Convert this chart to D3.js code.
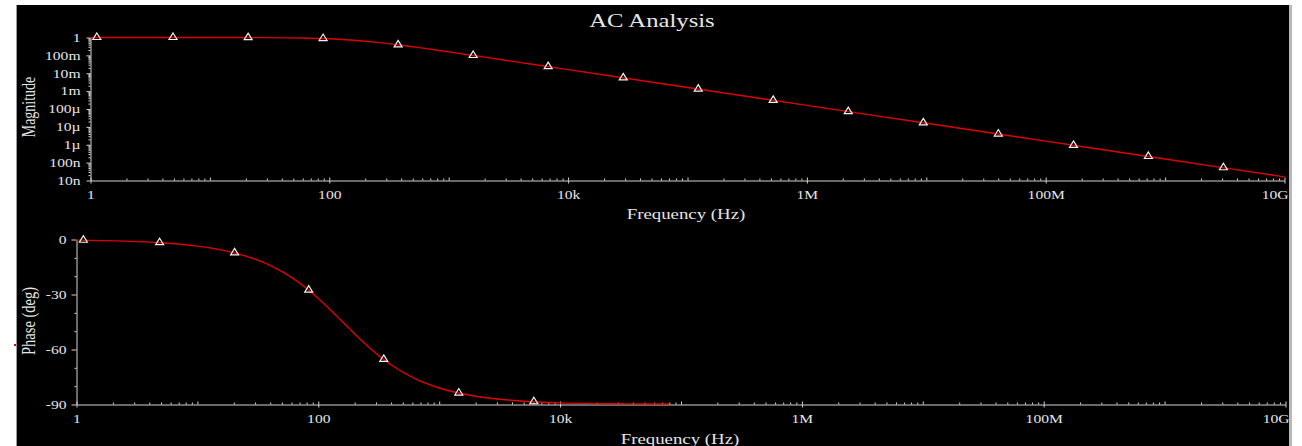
<!DOCTYPE html>
<html><head><meta charset="utf-8">
<script src="https://cdn.jsdelivr.net/npm/d3@7"></script>
<style>html,body{margin:0;padding:0;background:#fff;overflow:hidden}</style>
</head><body>
<svg id="c" width="1302" height="446"></svg>
<script>
// ---- data ----
const magFreq  = [1, 10, 30, 60, 100, 160, 250, 400, 630, 1000, 2000, 5000, 1e4, 1e5, 1e6, 1e7, 1e8, 1e9, 1e10];
const magValue = [1, 0.998, 0.983, 0.936, 0.847, 0.705, 0.537, 0.370, 0.245, 0.157, 0.0793, 0.0318, 0.0159, 1.59e-3, 1.59e-4, 1.59e-5, 1.59e-6, 1.59e-7, 1.59e-8];
const phaseFreq  = [1, 5, 10, 20, 40, 60, 80, 100, 130, 160, 200, 250, 320, 400, 600, 1000, 2000, 5000, 10000, 30000, 80000];
const phaseValue = [-0.36, -1.8, -3.6, -7.2, -14.1, -20.7, -26.7, -32.2, -39.3, -45.2, -51.5, -57.5, -63.6, -68.3, -75.2, -81.0, -85.5, -88.2, -89.1, -89.6, -89.75];
const magMarkerFreq  = [1.13, 4.91, 20.9, 88.7, 377, 1603, 6808, 28960, 1.23e5, 5.22e5, 2.22e6, 9.44e6, 4.01e7, 1.71e8, 7.24e8, 3.08e9];
const magMarkerValue = [1.0, 0.9995, 0.991, 0.873, 0.389, 0.0987, 0.0234, 5.49e-3, 1.29e-3, 3.05e-4, 7.16e-5, 1.68e-5, 3.97e-6, 9.3e-7, 2.2e-7, 5.16e-8];
const phaseMarkerFreq  = [1.14, 4.87, 20.3, 83.3, 348, 1452, 6070];
const phaseMarkerValue = [-0.41, -1.75, -7.28, -27.6, -65.4, -83.75, -88.5];
const freqTickValues = [1, 1e2, 1e4, 1e6, 1e8, 1e10];
const freqTickLabels = ["1", "100", "10k", "1M", "100M", "10G"];
const magTickValues = [1e-8, 1e-7, 1e-6, 1e-5, 1e-4, 1e-3, 1e-2, 1e-1, 1];
const magTickLabels = ["10n", "100n", "1µ", "10µ", "100µ", "1m", "10m", "100m", "1"];
const phaseTickValues = [0, -30, -60, -90];
const phaseTickLabels = ["0", "-30", "-60", "-90"];
const phaseMinorValues = [-10, -20, -40, -50, -70, -80];
const titleText = "AC Analysis";
const xTitle = "Frequency (Hz)";
const magTitle = "Magnitude";
const phaseTitle = "Phase (deg)";

// ---- style ----
const FG = "#e6e6e6", AX = "#d4d4d4", RED = "#e00000", SX = 1.3;
const FONT = "'Liberation Serif','Times New Roman',serif";

const svg = d3.select("#c");
svg.append("rect").attr("width", 1302).attr("height", 446).attr("fill", "#fff");
svg.append("rect").attr("x", 17).attr("y", 5).attr("width", 1272).attr("height", 441).attr("fill", "#000");
svg.append("rect").attr("x", 16).attr("y", 5).attr("width", 1).attr("height", 441).attr("fill", "#9a9a9a");
svg.append("rect").attr("x", 1289).attr("y", 5).attr("width", 3).attr("height", 441).attr("fill", "#b8b8b8");
svg.append("rect").attr("x", 14).attr("y", 344).attr("width", 2).attr("height", 2).attr("fill", "#e00000");

function stretchedText(g, x, y, txt, size, anchor, rotate) {
  return g.append("text")
    .attr("transform", `translate(${x},${y}) scale(${SX},1)` + (rotate ? ` rotate(${rotate})` : ""))
    .attr("text-anchor", anchor).attr("fill", FG)
    .attr("font-family", FONT).attr("font-size", size).text(txt);
}

stretchedText(svg, 652, 27, titleText, 19, "middle");

function logMinor(lo, hi) {
  const out = [];
  for (let e = lo; e < hi; e++) for (let m = 2; m <= 9; m++) out.push(m * Math.pow(10, e));
  return out;
}
function logDecades(lo, hi) {
  const out = [];
  for (let e = lo; e <= hi; e++) out.push(Math.pow(10, e));
  return out;
}

function styleAxis(g) {
  g.selectAll(".domain").attr("stroke", AX).attr("stroke-width", 1);
  g.selectAll(".tick line").attr("stroke", AX).attr("stroke-width", 1);
  g.attr("font-family", FONT).attr("font-size", 12);
  g.selectAll(".tick text").attr("fill", FG);
}

function marker(g, pts, x, y) {
  g.selectAll("path.mk").data(pts).join("path").attr("class", "mk")
    .attr("d", "M0,-4.5L4,2L-4,2Z")
    .attr("transform", d => `translate(${x(d.f)},${y(d.v)})`)
    .attr("fill", "none").attr("stroke", "#f2f2f2").attr("stroke-width", 1.2);
}

function freqAxis(g, x, yPos) {
  const gxm = g.append("g").attr("transform", `translate(0,${yPos})`)
    .call(d3.axisBottom(x).tickValues(logMinor(0, 10)).tickSize(-2).tickFormat(""));
  gxm.select(".domain").remove(); styleAxis(gxm);
  const gxd = g.append("g").attr("transform", `translate(0,${yPos})`)
    .call(d3.axisBottom(x).tickValues(logDecades(0, 10)).tickSize(-3).tickFormat(""));
  gxd.select(".domain").remove(); styleAxis(gxd);
  const gx = g.append("g").attr("transform", `translate(0,${yPos})`)
    .call(d3.axisBottom(x).tickValues(freqTickValues).tickFormat((d, i) => freqTickLabels[i]).tickSize(3).tickSizeOuter(0).tickPadding(7));
  styleAxis(gx);
  const n = freqTickValues.length;
  gx.selectAll(".tick text").attr("transform", `scale(${SX},1)`)
    .filter((d, i) => i === n - 1).attr("text-anchor", "end").attr("x", 3.5 / SX);
}

// ---------------- top plot: magnitude ----------------
{
  const x = d3.scaleLog().domain([1, 1e10]).range([90.5, 1284.5]);
  const y = d3.scaleLog().domain([1e-8, 1]).range([180.5, 37.5]);
  const g = svg.append("g");

  freqAxis(g, x, y.range()[0]);

  const gym = g.append("g").attr("transform", `translate(${x.range()[0]},0)`)
    .call(d3.axisLeft(y).tickValues(logMinor(-8, 0)).tickSize(2).tickFormat(""));
  gym.select(".domain").remove(); styleAxis(gym);
  const gy = g.append("g").attr("transform", `translate(${x.range()[0]},0)`)
    .call(d3.axisLeft(y).tickValues(magTickValues).tickFormat((d, i) => magTickLabels[i]).tickSize(4).tickSizeOuter(0).tickPadding(6));
  styleAxis(gy);
  gy.selectAll(".tick text").attr("x", -10 / SX).attr("transform", `scale(${SX},1)`);

  stretchedText(g, 686, 219, xTitle, 14.5, "middle");
  stretchedText(g, 35, 107, magTitle, 14, "middle", -90);

  const pts = magFreq.map((f, i) => ({ f, v: magValue[i] }));
  g.append("path").datum(pts)
    .attr("d", d3.line().x(d => x(d.f)).y(d => y(d.v)).curve(d3.curveMonotoneX))
    .attr("fill", "none").attr("stroke", RED).attr("stroke-width", 1.4);
  marker(g, magMarkerFreq.map((f, i) => ({ f, v: magMarkerValue[i] })), x, y);
}

// ---------------- bottom plot: phase ----------------
{
  const x = d3.scaleLog().domain([1, 1e10]).range([76.5, 1285.5]);
  const y = d3.scaleLinear().domain([-90, 0]).range([404.5, 239.5]);
  const g = svg.append("g");

  freqAxis(g, x, y.range()[0]);

  const gym = g.append("g").attr("transform", `translate(${x.range()[0]},0)`)
    .call(d3.axisLeft(y).tickValues(phaseMinorValues).tickSize(2).tickFormat(""));
  gym.select(".domain").remove(); styleAxis(gym);
  const gy = g.append("g").attr("transform", `translate(${x.range()[0]},0)`)
    .call(d3.axisLeft(y).tickValues(phaseTickValues).tickFormat((d, i) => phaseTickLabels[i]).tickSize(5).tickSizeOuter(0).tickPadding(6));
  styleAxis(gy);
  gy.selectAll(".tick text").attr("x", -10 / SX).attr("transform", `scale(${SX},1)`);

  stretchedText(g, 680, 444, xTitle, 14.5, "middle");
  stretchedText(g, 35, 321, phaseTitle, 14.5, "middle", -90);

  const pts = phaseFreq.map((f, i) => ({ f, v: phaseValue[i] }));
  g.append("path").datum(pts)
    .attr("d", d3.line().x(d => x(d.f)).y(d => y(d.v)).curve(d3.curveMonotoneX))
    .attr("fill", "none").attr("stroke", RED).attr("stroke-width", 1.4);
  marker(g, phaseMarkerFreq.map((f, i) => ({ f, v: phaseMarkerValue[i] })), x, y);
}
</script>
</body></html>
